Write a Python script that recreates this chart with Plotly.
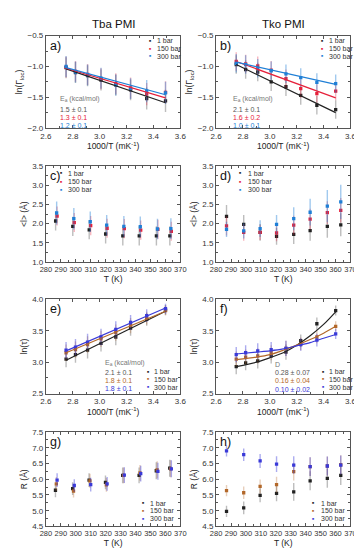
import plotly.graph_objects as go

# ---------------- data ----------------
inv_T = [2.75, 2.82, 2.91, 3.01, 3.12, 3.23, 3.35, 3.49]
temp_K = [287, 298.5, 309.5, 320.5, 332, 343, 354.5, 363.5]
series_names = ["1 bar", "150 bar", "300 bar"]

# a) Tba ln(Gamma_loc)
a_1 = [-1.02, -1.10, -1.15, -1.22, -1.30, -1.38, -1.52, -1.56]
a_150 = [-1.01, -1.08, -1.13, -1.20, -1.28, -1.35, -1.45, -1.42]
a_300 = [-1.00, -1.09, -1.14, -1.19, -1.30, -1.36, -1.40, -1.43]
a_err = [0.17, 0.17, 0.17, 0.17, 0.17, 0.17, 0.18, 0.18]
a_fit_x = [2.75, 3.49]
a_fit_1 = [-1.04, -1.59]
a_fit_150 = [-1.03, -1.51]
a_fit_300 = [-1.02, -1.46]
a_ea = ["1.5 ± 0.1", "1.3 ± 0.1", "1.2 ± 0.1"]

# b) Tko ln(Gamma_loc)
b_1 = [-0.97, -1.05, -1.09, -1.25, -1.33, -1.47, -1.63, -1.70]
b_150 = [-0.92, -0.96, -0.99, -1.06, -1.20, -1.36, -1.44, -1.40]
b_300 = [-0.95, -0.97, -1.03, -1.07, -1.12, -1.18, -1.26, -1.28]
b_err = [0.15, 0.15, 0.15, 0.15, 0.15, 0.15, 0.15, 0.15]
b_fit_1 = [-0.97, -1.75]
b_fit_150 = [-0.92, -1.51]
b_fit_300 = [-0.93, -1.29]
b_ea = ["2.1 ± 0.1", "1.6 ± 0.2", "1.0 ± 0.1"]

# c) Tba <l>
c_1 = [2.07, 1.93, 1.84, 1.73, 1.68, 1.68, 1.68, 1.68]
c_150 = [2.20, 2.03, 1.95, 1.88, 1.87, 1.83, 1.85, 1.80]
c_300 = [2.28, 2.13, 2.05, 1.96, 1.93, 1.92, 1.86, 1.87]
c_err_1 = [0.25, 0.25, 0.25, 0.25, 0.25, 0.25, 0.25, 0.25]
c_err_150 = [0.25, 0.25, 0.25, 0.25, 0.25, 0.25, 0.25, 0.25]
c_err_300 = [0.3, 0.28, 0.27, 0.27, 0.27, 0.27, 0.27, 0.27]

# d) Tko <l>
d_1 = [2.19, 1.98, 1.77, 1.67, 1.72, 1.82, 1.93, 1.97]
d_150 = [1.94, 1.77, 1.77, 1.76, 1.96, 2.12, 2.29, 2.35]
d_300 = [1.85, 1.81, 1.87, 1.98, 2.13, 2.30, 2.46, 2.57]
d_err_1 = [0.3, 0.25, 0.22, 0.22, 0.25, 0.27, 0.3, 0.3]
d_err_150 = [0.25, 0.22, 0.2, 0.22, 0.25, 0.27, 0.3, 0.32]
d_err_300 = [0.2, 0.2, 0.22, 0.25, 0.3, 0.35, 0.42, 0.45]

# e) Tba ln(tau)
e_1 = [3.05, 3.12, 3.19, 3.30, 3.40, 3.54, 3.68, 3.83]
e_150 = [3.15, 3.20, 3.28, 3.37, 3.47, 3.58, 3.70, 3.82]
e_300 = [3.19, 3.24, 3.32, 3.40, 3.52, 3.63, 3.74, 3.85]
e_err = [0.13, 0.13, 0.13, 0.13, 0.13, 0.12, 0.1, 0.08]
e_fit_1 = [3.03, 3.81]
e_fit_150 = [3.15, 3.81]
e_fit_300 = [3.18, 3.86]
e_ea = ["2.1 ± 0.1", "1.8 ± 0.1", "1.8 ± 0.1"]

# f) Tko ln(tau)
f_1 = [2.93, 2.99, 3.02, 3.10, 3.16, 3.34, 3.61, 3.82]
f_150 = [3.05, 3.08, 3.10, 3.15, 3.22, 3.29, 3.40, 3.57]
f_300 = [3.12, 3.15, 3.18, 3.20, 3.22, 3.28, 3.35, 3.45]
f_err = [0.12, 0.12, 0.12, 0.12, 0.12, 0.1, 0.1, 0.08]
f_fit_x = [2.75, 2.9, 3.0, 3.1, 3.2, 3.3, 3.4, 3.49]
f_fit_1 = [2.93, 3.00, 3.07, 3.15, 3.27, 3.42, 3.60, 3.80]
f_fit_150 = [3.04, 3.08, 3.12, 3.19, 3.27, 3.36, 3.46, 3.57]
f_fit_300 = [3.13, 3.16, 3.18, 3.21, 3.26, 3.31, 3.38, 3.44]
f_d = ["0.28 ± 0.07", "0.16 ± 0.04", "0.10 ± 0.02"]

# g) Tba R
g_1 = [5.65, 5.70, 5.97, 5.90, 6.12, 6.12, 6.27, 6.35]
g_150 = [5.85, 5.62, 5.95, 5.82, 6.12, 6.20, 6.30, 6.33]
g_300 = [5.97, 5.80, 5.83, 5.85, 6.13, 6.18, 6.25, 6.33]
g_err = [0.22, 0.2, 0.22, 0.22, 0.25, 0.25, 0.27, 0.27]

# h) Tko R
h_1 = [4.98, 5.09, 5.49, 5.55, 5.60, 5.95, 6.03, 6.12]
h_150 = [5.64, 5.57, 5.77, 5.83, 6.24, 6.40, 6.42, 6.46]
h_300 = [6.90, 6.78, 6.58, 6.48, 6.45, 6.40, 6.42, 6.45]
h_err = [0.18, 0.2, 0.22, 0.25, 0.28, 0.3, 0.3, 0.3]

# ---------------- style ----------------
FONT = "Liberation Sans, Arial, sans-serif"
top_cols = ["#222222", "#e6203a", "#1f7fd6"]
top_err = ["rgba(90,90,90,0.4)", "rgba(230,32,58,0.32)", "rgba(31,127,214,0.42)"]
bot_cols = ["#222222", "#b3682a", "#3a3ad8"]
bot_err = ["rgba(90,90,90,0.4)", "rgba(179,104,42,0.32)", "rgba(58,58,216,0.42)"]

W, H = 362, 550
colx = [(33, 172), (209, 348)]
rowy = [(24, 118), (157, 254), (292, 388), (427, 523)]

fig = go.Figure()
annotations = []

def dom_x(c):
    return [colx[c][0] / W, colx[c][1] / W]

def dom_y(r):
    return [1 - rowy[r][1] / H, 1 - rowy[r][0] / H]

panels = [
    (1, 0, 0, [2.6, 3.6], 0.2, 0.1, [-2.0, -0.5], 0.5, 0.25, "1000/T (mK<sup>-1</sup>)", "ln(Γ<sub>loc</sub>)"),
    (2, 1, 0, [2.6, 3.6], 0.2, 0.1, [-2.0, -0.5], 0.5, 0.25, "1000/T (mK<sup>-1</sup>)", "ln(Γ<sub>loc</sub>)"),
    (3, 0, 1, [280, 370], 10, 5, [1.0, 3.5], 0.5, 0.25, "T (K)", "&lt;l&gt; (Å)"),
    (4, 1, 1, [280, 370], 10, 5, [1.0, 3.5], 0.5, 0.25, "T (K)", "&lt;l&gt; (Å)"),
    (5, 0, 2, [2.6, 3.6], 0.2, 0.1, [2.5, 4.0], 0.5, 0.25, "1000/T (mK<sup>-1</sup>)", "ln(τ)"),
    (6, 1, 2, [2.6, 3.6], 0.2, 0.1, [2.5, 4.0], 0.5, 0.25, "1000/T (mK<sup>-1</sup>)", "ln(τ)"),
    (7, 0, 3, [280, 370], 10, 5, [4.5, 7.5], 0.5, 0.25, "T (K)", "R (Å)"),
    (8, 1, 3, [280, 370], 10, 5, [4.5, 7.5], 0.5, 0.25, "T (K)", "R (Å)"),
]

layout_axes = {}
for idx, c, r, xr, xd, xm, yr, yd, ym, xt, yt in panels:
    xa = "xaxis" if idx == 1 else f"xaxis{idx}"
    ya = "yaxis" if idx == 1 else f"yaxis{idx}"
    xfmt = ".1f" if xd < 1 else "d"
    common = dict(
        showline=True, linecolor="#555", linewidth=1, mirror="ticks",
        ticks="inside", ticklen=3, tickcolor="#555", tickwidth=1,
        showgrid=False, zeroline=False, tickangle=0,
        tickfont=dict(family=FONT, size=8 if xd < 1 else 7.5, color="#333"),
    )
    layout_axes[xa] = dict(
        common, domain=dom_x(c), range=xr, dtick=xd, tick0=xr[0], tickformat=xfmt,
        anchor=f"y{idx}" if idx > 1 else "y",
        minor=dict(ticks="inside", ticklen=2, dtick=xm, tickcolor="#555", showgrid=False),
        title=dict(text=xt, font=dict(family=FONT, size=8.5, color="#222"), standoff=1),
    )
    layout_axes[ya] = dict(
        common, domain=dom_y(r), range=yr, dtick=yd, tick0=yr[0], tickformat=".1f",
        anchor=f"x{idx}" if idx > 1 else "x",
        tickfont=dict(family=FONT, size=8, color="#333"),
        minor=dict(ticks="inside", ticklen=2, dtick=ym, tickcolor="#555", showgrid=False),
        title=dict(text=yt, font=dict(family=FONT, size=8.5, color="#222"), standoff=3),
    )

def ref(idx):
    return ("x" if idx == 1 else f"x{idx}"), ("y" if idx == 1 else f"y{idx}")

def add_points(idx, xs, ys, errs, col, ecol, dx=0.0):
    xr_, yr_ = ref(idx)
    fig.add_trace(go.Scatter(
        x=[v + dx for v in xs], y=ys, mode="markers", xaxis=xr_, yaxis=yr_,
        marker=dict(symbol="square", size=3.3, color=col, line=dict(width=0)),
        error_y=dict(type="data", array=errs, color=ecol, thickness=1.4, width=0),
        showlegend=False, hoverinfo="skip"))

def add_line(idx, xs, ys, col, shape="linear"):
    xr_, yr_ = ref(idx)
    fig.add_trace(go.Scatter(
        x=xs, y=ys, mode="lines", xaxis=xr_, yaxis=yr_,
        line=dict(color=col, width=1.2, shape=shape, smoothing=0.8),
        showlegend=False, hoverinfo="skip"))

for ys, col, ec in zip([a_1, a_150, a_300], top_cols, top_err):
    add_points(1, inv_T, ys, a_err, col, ec)
for ys, col in zip([a_fit_1, a_fit_150, a_fit_300], top_cols):
    add_line(1, a_fit_x, ys, col)
for ys, col, ec in zip([b_1, b_150, b_300], top_cols, top_err):
    add_points(2, inv_T, ys, b_err, col, ec)
for ys, col in zip([b_fit_1, b_fit_150, b_fit_300], top_cols):
    add_line(2, a_fit_x, ys, col)
for ys, er, col, ec, dx in zip([c_1, c_150, c_300], [c_err_1, c_err_150, c_err_300], top_cols, top_err, [-0.5, 0.5, 0.2]):
    add_points(3, temp_K, ys, er, col, ec, dx)
for ys, er, col, ec in zip([d_1, d_150, d_300], [d_err_1, d_err_150, d_err_300], top_cols, top_err):
    add_points(4, temp_K, ys, er, col, ec)
for ys, col, ec in zip([e_1, e_150, e_300], bot_cols, bot_err):
    add_points(5, inv_T, ys, e_err, col, ec)
for ys, col in zip([e_fit_1, e_fit_150, e_fit_300], bot_cols):
    add_line(5, a_fit_x, ys, col)
for ys, col, ec in zip([f_1, f_150, f_300], bot_cols, bot_err):
    add_points(6, inv_T, ys, f_err, col, ec)
for ys, col in zip([f_fit_1, f_fit_150, f_fit_300], bot_cols):
    add_line(6, f_fit_x, ys, col, shape="spline")
for ys, col, ec, dx in zip([g_1, g_150, g_300], bot_cols, bot_err, [-0.6, 0.0, 0.5]):
    add_points(7, temp_K, ys, g_err, col, ec, dx)
for ys, col, ec in zip([h_1, h_150, h_300], bot_cols, bot_err):
    add_points(8, temp_K, ys, h_err, col, ec)

def text(idx, x, y, s, color="#333", size=7, xanchor="left"):
    xr_, yr_ = ref(idx)
    annotations.append(dict(
        x=x, y=y, xref=f"{xr_} domain", yref=f"{yr_} domain", text=s, showarrow=False,
        xanchor=xanchor, yanchor="middle", font=dict(family=FONT, size=size, color=color),
        borderpad=0))

def legend(idx, xdot, xtxt, ys, cols):
    for name, y, col in zip(series_names, ys, cols):
        text(idx, xdot, y, "■", color=col, size=3.5, xanchor="center")
        text(idx, xtxt, y, name, color="#333", size=7)

for idx, lab in zip(range(1, 9), ["a)", "b)", "c)", "d)", "e)", "f)", "g)", "h)"]):
    xr_, yr_ = ref(idx)
    annotations.append(dict(
        x=0.015, y=0.99, xref=f"{xr_} domain", yref=f"{yr_} domain", text=lab, showarrow=False,
        xanchor="left", yanchor="top", font=dict(family=FONT, size=12.5, color="#111")))

legend(1, 0.775, 0.82, [0.945, 0.857, 0.775], top_cols)
legend(2, 0.79, 0.835, [0.945, 0.857, 0.775], top_cols)
legend(3, 0.11, 0.16, [0.928, 0.84, 0.755], top_cols)
legend(4, 0.178, 0.23, [0.928, 0.84, 0.755], top_cols)
legend(5, 0.76, 0.8, [0.23, 0.15, 0.07], bot_cols)
legend(6, 0.795, 0.835, [0.23, 0.15, 0.07], bot_cols)
legend(7, 0.722, 0.765, [0.247, 0.164, 0.081], bot_cols)
legend(8, 0.722, 0.77, [0.247, 0.164, 0.081], bot_cols)

ea_label = "E<sub>a</sub> (kcal/mol)"
text(1, 0.094, 0.316, ea_label, color="#777")
for s, y, col in zip(a_ea, [0.205, 0.115, 0.025], ["#555", top_cols[1], top_cols[2]]):
    text(1, 0.094, y, s, color=col)
text(2, 0.122, 0.316, ea_label, color="#777")
for s, y, col in zip(b_ea, [0.205, 0.115, 0.025], ["#555", top_cols[1], top_cols[2]]):
    text(2, 0.122, y, s, color=col)
text(5, 0.432, 0.32, ea_label, color="#777")
for s, y, col in zip(e_ea, [0.225, 0.14, 0.055], ["#555", bot_cols[1], bot_cols[2]]):
    text(5, 0.432, y, s, color=col)
text(6, 0.43, 0.31, "D", color="#777")
for s, y, col in zip(f_d, [0.225, 0.14, 0.045], ["#555", bot_cols[1], bot_cols[2]]):
    text(6, 0.43, y, s, color=col)

for c, t in zip([0, 1], ["Tba PMI", "Tko PMI"]):
    annotations.append(dict(
        x=(colx[c][0] + colx[c][1]) / 2 / W, y=1 - 12 / H, xref="paper", yref="paper",
        text=t, showarrow=False, xanchor="center", yanchor="middle",
        font=dict(family=FONT, size=11.5, color="#111")))

fig.update_layout(
    width=W, height=H, margin=dict(l=0, r=0, t=0, b=0),
    paper_bgcolor="white", plot_bgcolor="white",
    annotations=annotations, showlegend=False, **layout_axes)

fig.write_html("out.html")
